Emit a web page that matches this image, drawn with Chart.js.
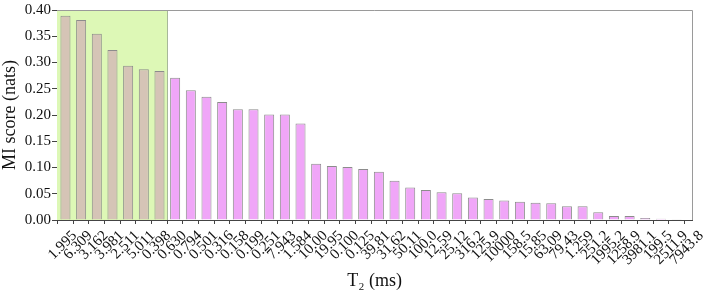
<!DOCTYPE html>
<html>
<head>
<meta charset="utf-8">
<script src="https://cdn.jsdelivr.net/npm/chart.js@4.4.0/dist/chart.umd.min.js"></script>
<style>
    body { margin: 0; background: #fff; }
</style>
</head>
<body>
<canvas id="miChart" width="708" height="294"></canvas>
<script>
// T2 bins (ms), ordered by MI score
const t2Labels = ['1.995', '6.309', '3.162', '3.981', '2.511', '5.011', '0.398', '0.630', '0.794', '0.501',
    '0.316', '0.158', '0.199', '0.251', '7.943', '1.584', '10.00', '19.95', '0.100', '0.125',
    '39.81', '31.62', '50.11', '100.0', '12.59', '25.12', '316.2', '125.9', '10000', '158.5',
    '15.85', '63.09', '79.43', '1.259', '251.2', '1995.2', '1258.9', '3981.1', '199.5', '2511.9', '7943.8'];

const miScores = [0.389, 0.381, 0.355, 0.324, 0.294, 0.287, 0.284, 0.271, 0.247, 0.235,
    0.225, 0.211, 0.211, 0.201, 0.201, 0.184, 0.107, 0.103, 0.101, 0.097,
    0.092, 0.075, 0.062, 0.057, 0.053, 0.051, 0.043, 0.040, 0.037, 0.035,
    0.033, 0.032, 0.026, 0.026, 0.015, 0.0075, 0.0075, 0.004, 0.0025, 0.0005, 0];

const yTicks = [0, 0.05, 0.10, 0.15, 0.20, 0.25, 0.30, 0.35, 0.40];

// first 7 bins are the highlighted (top) group
const topCount = 7;

const brown = '#d5c4b6';
const pink = '#f0a6f8';
const shade = '#ddf8b6';

// shaded band behind the top group + box border
const boxPlugin = {
    id: 'boxPlugin',
    beforeDatasetsDraw(chart) {
        const { ctx, chartArea, scales } = chart;
        const xEnd = scales.x.getPixelForValue(topCount - 0.5);
        ctx.save();
        ctx.fillStyle = shade;
        ctx.fillRect(chartArea.left, chartArea.top, xEnd - chartArea.left, chartArea.bottom - chartArea.top);
        ctx.strokeStyle = '#a8b89a';
        ctx.lineWidth = 1;
        ctx.beginPath();
        ctx.moveTo(Math.round(xEnd) + 0.5, chartArea.top);
        ctx.lineTo(Math.round(xEnd) + 0.5, chartArea.bottom);
        ctx.stroke();
        ctx.restore();
    },
    afterDraw(chart) {
        const { ctx, chartArea } = chart;
        ctx.save();
        ctx.strokeStyle = '#9a9a9a';
        ctx.lineWidth = 1;
        ctx.beginPath();
        ctx.moveTo(chartArea.left, Math.round(chartArea.top) + 0.5);
        ctx.lineTo(Math.round(chartArea.right) + 0.5, Math.round(chartArea.top) + 0.5);
        ctx.lineTo(Math.round(chartArea.right) + 0.5, chartArea.bottom);
        ctx.stroke();
        ctx.restore();
    }
};

const ctx = document.getElementById('miChart').getContext('2d');
new Chart(ctx, {
    type: 'bar',
    data: {
        datasets: [{
            data: miScores.map((v, i) => ({ x: i, y: v })),
            backgroundColor: miScores.map((v, i) => i < topCount ? brown : pink),
            borderColor: '#8c8c8c',
            borderWidth: 1,
            barPercentage: 0.64,
            categoryPercentage: 1
        }]
    },
    options: {
        responsive: false,
        animation: false,
        layout: { padding: { top: 8, right: 14, left: 0, bottom: 0 } },
        plugins: {
            legend: { display: false },
            tooltip: { enabled: false }
        },
        scales: {
            x: {
                type: 'linear',
                offset: false,
                min: -0.54,
                max: t2Labels.length - 1,
                afterFit: scale => { scale.height = 74; },
                afterBuildTicks: scale => {
                    scale.ticks = t2Labels.map((l, i) => ({ value: i }));
                },
                grid: {
                    drawOnChartArea: false,
                    tickLength: 4,
                    color: '#444'
                },
                border: { color: '#444', width: 1 },
                ticks: {
                    autoSkip: false,
                    maxRotation: 45,
                    minRotation: 45,
                    padding: 3,
                    labelOffset: 9,
                    color: '#111',
                    font: { family: 'Liberation Serif', size: 15 },
                    callback: value => t2Labels[value]
                },
                title: {
                    display: true,
                    text: 'T₂ (ms)',
                    color: '#111',
                    padding: { top: 0, bottom: 2 },
                    font: { family: 'Liberation Serif', size: 18 }
                }
            },
            y: {
                min: 0,
                max: 0.40,
                afterFit: scale => { scale.width = 57; },
                afterBuildTicks: scale => {
                    scale.ticks = yTicks.map(v => ({ value: v }));
                },
                grid: {
                    drawOnChartArea: false,
                    tickLength: 5,
                    color: '#444'
                },
                border: { color: '#444', width: 1 },
                ticks: {
                    padding: 1,
                    color: '#111',
                    font: { family: 'Liberation Serif', size: 15 },
                    callback: value => value.toFixed(2)
                },
                title: {
                    display: true,
                    text: 'MI score (nats)',
                    color: '#111',
                    padding: { top: 1, bottom: 0 },
                    font: { family: 'Liberation Serif', size: 18, lineHeight: 1 }
                }
            }
        }
    },
    plugins: [boxPlugin]
});
</script>
</body>
</html>
